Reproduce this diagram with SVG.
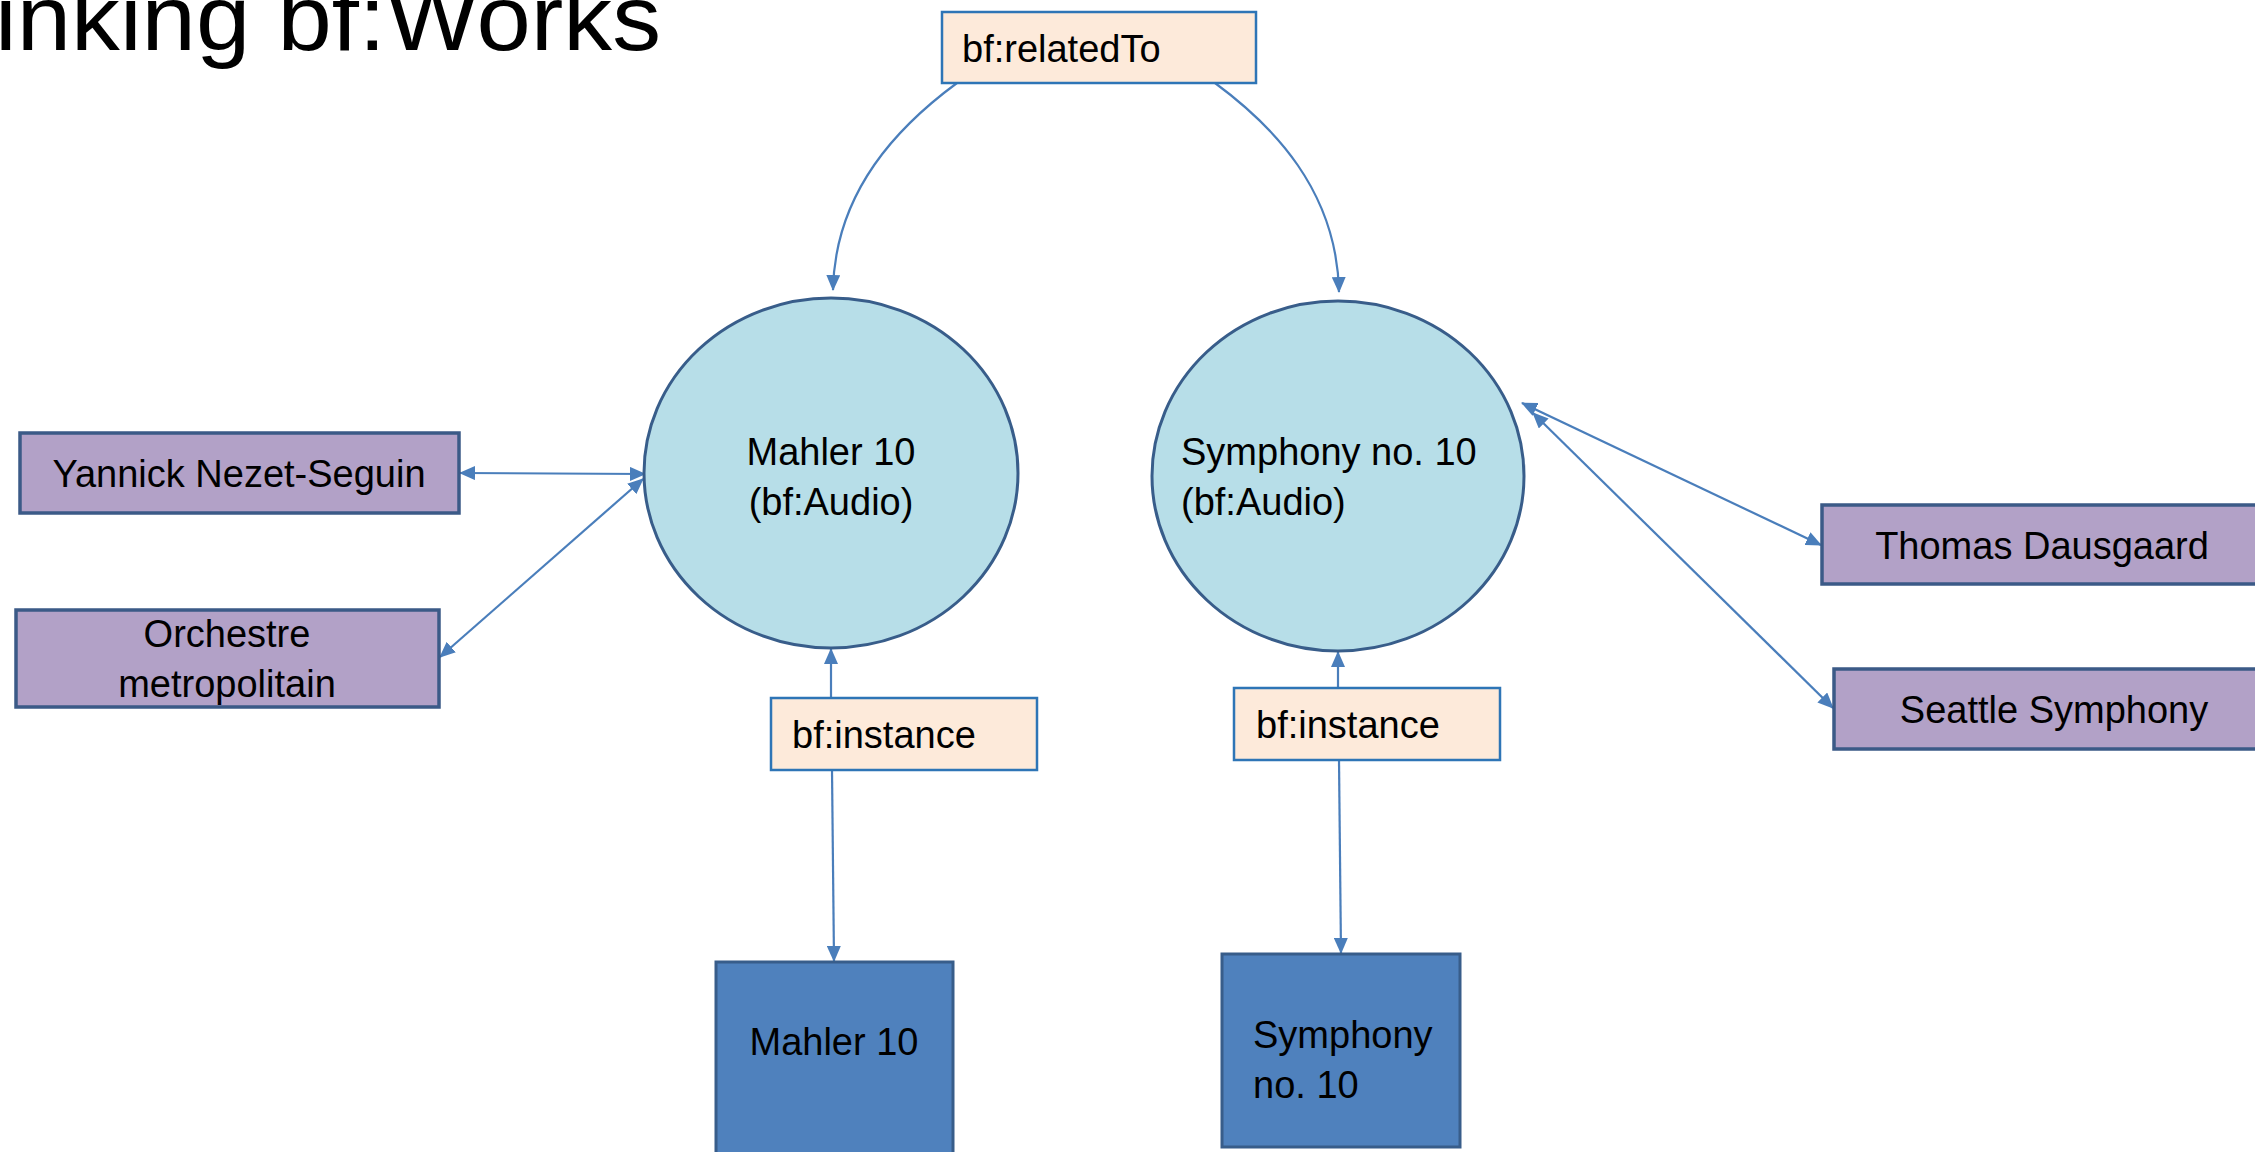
<svg xmlns="http://www.w3.org/2000/svg" width="2255" height="1152" viewBox="0 0 2255 1152">
  <style>
    .lbl { font-family: "Liberation Sans", Arial, sans-serif; font-size: 38px; fill: #000000; }
    .title { font-family: "Liberation Sans", Arial, sans-serif; font-size: 92px; fill: #000000; }
    .work { fill: #B7DEE8; stroke: #385D8A; stroke-width: 3; }
    .agent { fill: #B2A1C7; stroke: #3B5A87; stroke-width: 3.5; }
    .prop { fill: #FDEADA; stroke: #2E75B6; stroke-width: 2.5; }
    .inst { fill: #4F81BD; stroke: #385D8A; stroke-width: 3; }
    .conn { fill: none; stroke: #4A7EBB; stroke-width: 2.2; }
  </style>
  <defs>
    <marker id="arrow" markerUnits="userSpaceOnUse" markerWidth="16" markerHeight="14" viewBox="0 0 16 14" refX="15" refY="7" orient="auto-start-reverse">
      <path d="M0,0 L16,7 L0,14 z" fill="#4A7EBB"/>
    </marker>
  </defs>
  <rect x="0" y="0" width="2255" height="1152" fill="#FFFFFF"/>

  <text id="title" class="title" x="-5" y="50" textLength="666" lengthAdjust="spacingAndGlyphs">inking bf:Works</text>

  <g id="connectors">
    <path class="conn" d="M957,83 C900,125 835,190 833,290" marker-end="url(#arrow)"/>
    <path class="conn" d="M1215,83 C1272,125 1337,190 1339,292" marker-end="url(#arrow)"/>
    <path class="conn" d="M831,698 L831,649" marker-end="url(#arrow)"/>
    <path class="conn" d="M832,770 L834,961" marker-end="url(#arrow)"/>
    <path class="conn" d="M1338,688 L1338,652" marker-end="url(#arrow)"/>
    <path class="conn" d="M1339,760 L1341,953" marker-end="url(#arrow)"/>
    <path class="conn" d="M460,473 L645,474" marker-start="url(#arrow)" marker-end="url(#arrow)"/>
    <path class="conn" d="M440,657 L643,479" marker-start="url(#arrow)" marker-end="url(#arrow)"/>
    <path class="conn" d="M1522,403 L1821,545" marker-start="url(#arrow)" marker-end="url(#arrow)"/>
    <path class="conn" d="M1533,413 L1833,708" marker-start="url(#arrow)" marker-end="url(#arrow)"/>
  </g>

  <g id="relatedTo">
    <rect class="prop" x="942" y="12" width="314" height="71"/>
    <text class="lbl" x="962" y="62">bf:relatedTo</text>
  </g>

  <g id="work-mahler">
    <ellipse class="work" cx="831" cy="473" rx="187" ry="175"/>
    <text class="lbl" x="831" y="465" text-anchor="middle">Mahler 10</text>
    <text class="lbl" x="831" y="515" text-anchor="middle">(bf:Audio)</text>
  </g>

  <g id="work-symphony">
    <ellipse class="work" cx="1338" cy="476" rx="186" ry="175"/>
    <text class="lbl" x="1181" y="465">Symphony no. 10</text>
    <text class="lbl" x="1181" y="515">(bf:Audio)</text>
  </g>

  <g id="agent-yannick">
    <rect class="agent" x="20" y="433" width="439" height="80"/>
    <text class="lbl" x="239" y="487" text-anchor="middle">Yannick Nezet-Seguin</text>
  </g>

  <g id="agent-orchestre">
    <rect class="agent" x="16" y="610" width="423" height="97"/>
    <text class="lbl" x="227" y="647" text-anchor="middle">Orchestre</text>
    <text class="lbl" x="227" y="697" text-anchor="middle">metropolitain</text>
  </g>

  <g id="agent-thomas">
    <rect class="agent" x="1822" y="505" width="440" height="79"/>
    <text class="lbl" x="2042" y="559" text-anchor="middle">Thomas Dausgaard</text>
  </g>

  <g id="agent-seattle">
    <rect class="agent" x="1834" y="669" width="440" height="80"/>
    <text class="lbl" x="2054" y="723" text-anchor="middle">Seattle Symphony</text>
  </g>

  <g id="instance-label-left">
    <rect class="prop" x="771" y="698" width="266" height="72"/>
    <text class="lbl" x="792" y="748">bf:instance</text>
  </g>

  <g id="instance-label-right">
    <rect class="prop" x="1234" y="688" width="266" height="72"/>
    <text class="lbl" x="1256" y="738">bf:instance</text>
  </g>

  <g id="instance-mahler">
    <rect class="inst" x="716" y="962" width="237" height="200"/>
    <text class="lbl" x="834" y="1055" text-anchor="middle">Mahler 10</text>
  </g>

  <g id="instance-symphony">
    <rect class="inst" x="1222" y="954" width="238" height="193"/>
    <text class="lbl" x="1253" y="1048">Symphony</text>
    <text class="lbl" x="1253" y="1098">no. 10</text>
  </g>
</svg>
